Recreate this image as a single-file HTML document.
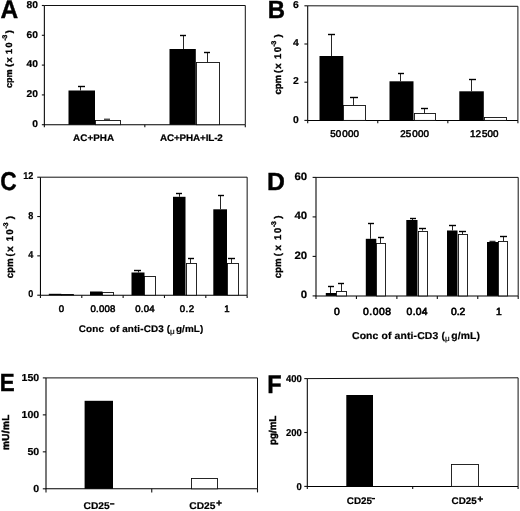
<!DOCTYPE html>
<html><head><meta charset="utf-8"><title>Figure</title>
<style>
html,body{margin:0;padding:0;background:#fff;}
body{width:520px;height:511px;overflow:hidden;}
svg{display:block;filter:grayscale(1) blur(0.2px);text-rendering:geometricPrecision;font-family:"Liberation Sans",sans-serif;font-weight:bold;fill:#000;}
</style></head>
<body>
<svg width="520" height="511" viewBox="0 0 520 511">
<rect x="0" y="0" width="520" height="511" fill="#fff"/>
<path d="M44.35 5.5L245.3 5.5V124.7" fill="none" stroke="#111" stroke-width="1.0"/>
<path d="M44.35 5.5V124.7H245.3" fill="none" stroke="#000" stroke-width="1.05"/>
<line x1="41.85" y1="5.5" x2="44.35" y2="5.5" stroke="#111" stroke-width="1.1"/>
<text transform="translate(38.0,7.8) scale(1.04,1)" font-size="9.9" text-anchor="end" stroke="#000" stroke-width="0.2">80</text>
<line x1="41.85" y1="35.3" x2="44.35" y2="35.3" stroke="#111" stroke-width="1.1"/>
<text transform="translate(38.0,37.599999999999994) scale(1.04,1)" font-size="9.9" text-anchor="end" stroke="#000" stroke-width="0.2">60</text>
<line x1="41.85" y1="65.1" x2="44.35" y2="65.1" stroke="#111" stroke-width="1.1"/>
<text transform="translate(38.0,67.39999999999999) scale(1.04,1)" font-size="9.9" text-anchor="end" stroke="#000" stroke-width="0.2">40</text>
<line x1="41.85" y1="94.9" x2="44.35" y2="94.9" stroke="#111" stroke-width="1.1"/>
<text transform="translate(38.0,97.2) scale(1.04,1)" font-size="9.9" text-anchor="end" stroke="#000" stroke-width="0.2">20</text>
<line x1="41.85" y1="124.7" x2="44.35" y2="124.7" stroke="#111" stroke-width="1.1"/>
<text transform="translate(38.0,127.0) scale(1.04,1)" font-size="9.9" text-anchor="end" stroke="#000" stroke-width="0.2">0</text>
<line x1="44.35" y1="124.7" x2="44.35" y2="127.3" stroke="#111" stroke-width="1.1"/>
<line x1="144.82500000000002" y1="124.7" x2="144.82500000000002" y2="127.3" stroke="#111" stroke-width="1.1"/>
<line x1="245.3" y1="124.7" x2="245.3" y2="127.3" stroke="#111" stroke-width="1.1"/>
<rect x="68.5" y="90.5" width="26.5" height="34.2" fill="#000"/>
<line x1="80.5" y1="86.5" x2="80.5" y2="90.5" stroke="#1a1a1a" stroke-width="0.95"/>
<line x1="78" y1="86.5" x2="85" y2="86.5" stroke="#000" stroke-width="1.4"/>
<rect x="95.5" y="120.5" width="25" height="4.200000000000003" fill="#fff" stroke="#0a0a0a" stroke-width="0.88"/>
<line x1="104" y1="119.2" x2="110" y2="119.2" stroke="#000" stroke-width="1"/>
<rect x="169.5" y="49" width="26.30000000000001" height="75.7" fill="#000"/>
<line x1="183.5" y1="35.5" x2="183.5" y2="49" stroke="#1a1a1a" stroke-width="0.95"/>
<line x1="180" y1="35.5" x2="186" y2="35.5" stroke="#000" stroke-width="1.4"/>
<rect x="196.5" y="62.5" width="23" height="62.2" fill="#fff" stroke="#0a0a0a" stroke-width="0.88"/>
<line x1="207.5" y1="52.5" x2="207.5" y2="62.3" stroke="#1a1a1a" stroke-width="0.95"/>
<line x1="204" y1="52.5" x2="210" y2="52.5" stroke="#000" stroke-width="1.4"/>
<text transform="translate(73.0,141) scale(1.04,1)" font-size="9.5" text-anchor="start" textLength="39.62" lengthAdjust="spacing" stroke="#000" stroke-width="0.2">AC+PHA</text>
<text transform="translate(160,141) scale(1.04,1)" font-size="9.5" text-anchor="start" textLength="60.38" lengthAdjust="spacing" stroke="#000" stroke-width="0.2">AC+PHA+IL-2</text>
<text transform="translate(12.0,87.7) rotate(-90)" font-size="9.1" stroke="#000" stroke-width="0.35"><tspan x="-0.36">cpm</tspan><tspan x="20.86">(</tspan><tspan x="25.21">x</tspan><tspan x="33.73">1</tspan><tspan x="40.09">0</tspan><tspan x="47.13" dy="-4.8" font-size="6.8">-</tspan><tspan x="49.23" font-size="6.8">3</tspan><tspan x="54.43" dy="4.8">)</tspan></text>
<text transform="translate(0.6,18.0) scale(0.96,1)" font-size="25.5" text-anchor="start" stroke="#000" stroke-width="0.4">A</text>
<path d="M307.7 5.8L517.9 6.3V120.4" fill="none" stroke="#111" stroke-width="1.0"/>
<path d="M307.7 5.8V120.4H517.9" fill="none" stroke="#000" stroke-width="1.05"/>
<line x1="304.4" y1="5.8" x2="307.7" y2="5.8" stroke="#111" stroke-width="1.1"/>
<text transform="translate(298.9,7.9) scale(1.04,1)" font-size="10" text-anchor="end" stroke="#000" stroke-width="0.2">6</text>
<line x1="304.4" y1="44.0" x2="307.7" y2="44.0" stroke="#111" stroke-width="1.1"/>
<text transform="translate(298.9,46.1) scale(1.04,1)" font-size="10" text-anchor="end" stroke="#000" stroke-width="0.2">4</text>
<line x1="304.4" y1="82.2" x2="307.7" y2="82.2" stroke="#111" stroke-width="1.1"/>
<text transform="translate(298.9,84.3) scale(1.04,1)" font-size="10" text-anchor="end" stroke="#000" stroke-width="0.2">2</text>
<line x1="304.4" y1="120.4" x2="307.7" y2="120.4" stroke="#111" stroke-width="1.1"/>
<text transform="translate(298.9,122.5) scale(1.04,1)" font-size="10" text-anchor="end" stroke="#000" stroke-width="0.2">0</text>
<line x1="307.7" y1="120.4" x2="307.7" y2="123.2" stroke="#111" stroke-width="1.1"/>
<line x1="377.76666666666665" y1="120.4" x2="377.76666666666665" y2="123.2" stroke="#111" stroke-width="1.1"/>
<line x1="447.8333333333333" y1="120.4" x2="447.8333333333333" y2="123.2" stroke="#111" stroke-width="1.1"/>
<line x1="517.9" y1="120.4" x2="517.9" y2="123.2" stroke="#111" stroke-width="1.1"/>
<rect x="319.5" y="56" width="23.80000000000001" height="64.4" fill="#000"/>
<line x1="331.5" y1="34.5" x2="331.5" y2="56" stroke="#1a1a1a" stroke-width="0.95"/>
<line x1="328" y1="34.5" x2="335" y2="34.5" stroke="#000" stroke-width="1.4"/>
<rect x="343.5" y="105.5" width="22" height="14.900000000000006" fill="#fff" stroke="#0a0a0a" stroke-width="0.88"/>
<line x1="353.5" y1="97.5" x2="353.5" y2="105" stroke="#1a1a1a" stroke-width="0.95"/>
<line x1="350" y1="97.5" x2="358" y2="97.5" stroke="#000" stroke-width="1.4"/>
<rect x="389.5" y="81.3" width="24.0" height="39.10000000000001" fill="#000"/>
<line x1="400.5" y1="73.5" x2="400.5" y2="81.3" stroke="#1a1a1a" stroke-width="0.95"/>
<line x1="398" y1="73.5" x2="404" y2="73.5" stroke="#000" stroke-width="1.4"/>
<rect x="414.5" y="113.5" width="21" height="6.900000000000006" fill="#fff" stroke="#0a0a0a" stroke-width="0.88"/>
<line x1="424.5" y1="108.5" x2="424.5" y2="113.2" stroke="#1a1a1a" stroke-width="0.95"/>
<line x1="421" y1="108.5" x2="428" y2="108.5" stroke="#000" stroke-width="1.4"/>
<rect x="459.3" y="91.3" width="24.5" height="29.10000000000001" fill="#000"/>
<line x1="471.5" y1="79.5" x2="471.5" y2="91.3" stroke="#1a1a1a" stroke-width="0.95"/>
<line x1="469" y1="79.5" x2="476" y2="79.5" stroke="#000" stroke-width="1.4"/>
<rect x="484.5" y="117.5" width="22" height="2.9000000000000057" fill="#fff" stroke="#0a0a0a" stroke-width="0.88"/>
<text transform="translate(330.3,137) scale(1.0,1)" font-size="9.8" text-anchor="start" textLength="28.6" lengthAdjust="spacing" stroke="#000" stroke-width="0.55" font-weight="normal">50<tspan dx="1.0">000</tspan></text>
<text transform="translate(400.3,137) scale(1.0,1)" font-size="9.8" text-anchor="start" textLength="28.6" lengthAdjust="spacing" stroke="#000" stroke-width="0.55" font-weight="normal">25<tspan dx="1.0">000</tspan></text>
<text transform="translate(470.1,137) scale(1.0,1)" font-size="9.8" text-anchor="start" textLength="28.4" lengthAdjust="spacing" stroke="#000" stroke-width="0.55" font-weight="normal">12<tspan dx="1.0">500</tspan></text>
<text transform="translate(280.8,94.2) rotate(-90)" font-size="9.6" stroke="#000" stroke-width="0.35"><tspan x="-0.38">cpm</tspan><tspan x="21.13">(</tspan><tspan x="25.50">x</tspan><tspan x="35.30">1</tspan><tspan x="41.93">0</tspan><tspan x="47.63" dy="-4.8" font-size="6.8">-</tspan><tspan x="49.73" font-size="6.8">3</tspan><tspan x="56.71" dy="4.8">)</tspan></text>
<text transform="translate(267.7,18.05) scale(0.965,1)" font-size="24.8" text-anchor="start" stroke="#000" stroke-width="0.4">B</text>
<path d="M40.45 177.2L247.15 177.2V295.2" fill="none" stroke="#111" stroke-width="1.0"/>
<path d="M40.45 177.2V295.2H247.15" fill="none" stroke="#000" stroke-width="1.05"/>
<line x1="37.25" y1="177.2" x2="40.45" y2="177.2" stroke="#111" stroke-width="1.1"/>
<text transform="translate(33.4,179.29999999999998) scale(0.92,1)" font-size="9.9" text-anchor="end" stroke="#000" stroke-width="0.2">12</text>
<line x1="37.25" y1="216.53333333333333" x2="40.45" y2="216.53333333333333" stroke="#111" stroke-width="1.1"/>
<text transform="translate(33.4,218.63333333333333) scale(0.92,1)" font-size="9.9" text-anchor="end" stroke="#000" stroke-width="0.2">8</text>
<line x1="37.25" y1="255.86666666666667" x2="40.45" y2="255.86666666666667" stroke="#111" stroke-width="1.1"/>
<text transform="translate(33.4,257.9666666666667) scale(0.92,1)" font-size="9.9" text-anchor="end" stroke="#000" stroke-width="0.2">4</text>
<line x1="37.25" y1="295.2" x2="40.45" y2="295.2" stroke="#111" stroke-width="1.1"/>
<text transform="translate(33.4,297.3) scale(0.92,1)" font-size="9.9" text-anchor="end" stroke="#000" stroke-width="0.2">0</text>
<line x1="40.45" y1="295.2" x2="40.45" y2="298.0" stroke="#111" stroke-width="1.1"/>
<line x1="81.78999999999999" y1="295.2" x2="81.78999999999999" y2="298.0" stroke="#111" stroke-width="1.1"/>
<line x1="123.13" y1="295.2" x2="123.13" y2="298.0" stroke="#111" stroke-width="1.1"/>
<line x1="164.46999999999997" y1="295.2" x2="164.46999999999997" y2="298.0" stroke="#111" stroke-width="1.1"/>
<line x1="205.81" y1="295.2" x2="205.81" y2="298.0" stroke="#111" stroke-width="1.1"/>
<line x1="247.14999999999998" y1="295.2" x2="247.14999999999998" y2="298.0" stroke="#111" stroke-width="1.1"/>
<rect x="48.8" y="293.8" width="12.5" height="1.3999999999999773" fill="#000"/>
<rect x="61.5" y="294.5" width="12" height="0.6999999999999886" fill="#fff" stroke="#0a0a0a" stroke-width="0.88"/>
<rect x="90" y="291.5" width="12.5" height="3.6999999999999886" fill="#000"/>
<rect x="102.5" y="292.5" width="11" height="2.6999999999999886" fill="#fff" stroke="#0a0a0a" stroke-width="0.88"/>
<rect x="131.5" y="272.5" width="13.0" height="22.69999999999999" fill="#000"/>
<line x1="138.5" y1="270.5" x2="138.5" y2="272.5" stroke="#1a1a1a" stroke-width="0.95"/>
<line x1="134" y1="270.5" x2="141" y2="270.5" stroke="#000" stroke-width="1.4"/>
<rect x="144.5" y="276.5" width="11" height="18.69999999999999" fill="#fff" stroke="#0a0a0a" stroke-width="0.88"/>
<rect x="173" y="196.8" width="12.5" height="98.39999999999998" fill="#000"/>
<line x1="179.5" y1="193.5" x2="179.5" y2="196.8" stroke="#1a1a1a" stroke-width="0.95"/>
<line x1="176" y1="193.5" x2="182" y2="193.5" stroke="#000" stroke-width="1.4"/>
<rect x="186.5" y="263.5" width="10" height="31.69999999999999" fill="#fff" stroke="#0a0a0a" stroke-width="0.88"/>
<line x1="190.5" y1="258.5" x2="190.5" y2="263" stroke="#1a1a1a" stroke-width="0.95"/>
<line x1="188" y1="258.5" x2="194" y2="258.5" stroke="#000" stroke-width="1.4"/>
<rect x="213.3" y="209.3" width="13.699999999999989" height="85.89999999999998" fill="#000"/>
<line x1="220.5" y1="195.5" x2="220.5" y2="209.3" stroke="#1a1a1a" stroke-width="0.95"/>
<line x1="218" y1="195.5" x2="224" y2="195.5" stroke="#000" stroke-width="1.4"/>
<rect x="227.5" y="263.5" width="11" height="31.69999999999999" fill="#fff" stroke="#0a0a0a" stroke-width="0.88"/>
<line x1="231.5" y1="258.5" x2="231.5" y2="263" stroke="#1a1a1a" stroke-width="0.95"/>
<line x1="228" y1="258.5" x2="235" y2="258.5" stroke="#000" stroke-width="1.4"/>
<text transform="translate(61.3,312) scale(1.0,1)" font-size="9.6" text-anchor="middle" stroke="#000" stroke-width="0.55" font-weight="normal">0</text>
<text transform="translate(90.45,312) scale(1.0,1)" font-size="9.6" text-anchor="start" textLength="24.9" lengthAdjust="spacing" stroke="#000" stroke-width="0.55" font-weight="normal">0.008</text>
<text transform="translate(135.29999999999998,312) scale(1.0,1)" font-size="9.6" text-anchor="start" textLength="19.4" lengthAdjust="spacing" stroke="#000" stroke-width="0.55" font-weight="normal">0.04</text>
<text transform="translate(179.7,312) scale(1.0,1)" font-size="9.6" text-anchor="start" textLength="14.4" lengthAdjust="spacing" stroke="#000" stroke-width="0.55" font-weight="normal">0.2</text>
<text transform="translate(226.8,312) scale(1.0,1)" font-size="9.6" text-anchor="middle" stroke="#000" stroke-width="0.55" font-weight="normal">1</text>
<text transform="translate(78.8,331.8) scale(1.04,1)" font-size="9.5" text-anchor="start" textLength="119.71" lengthAdjust="spacing" stroke="#000" stroke-width="0.2" xml:space="preserve">Conc  of anti-CD3 (<tspan font-size="7.8" dy="2.2" font-weight="normal">&#956;</tspan><tspan dy="-2.2" dx="1.0">g/mL)</tspan></text>
<text transform="translate(13.1,277.9) rotate(-90)" font-size="9.7" stroke="#000" stroke-width="0.35"><tspan x="-0.39">cpm</tspan><tspan x="21.42">(</tspan><tspan x="26.10">x</tspan><tspan x="36.59">1</tspan><tspan x="43.28">0</tspan><tspan x="49.43" dy="-4.8" font-size="6.8">-</tspan><tspan x="51.73" font-size="6.8">3</tspan><tspan x="58.71" dy="4.8">)</tspan></text>
<text transform="translate(0.3,189.95) scale(0.88,1)" font-size="25.8" text-anchor="start" stroke="#000" stroke-width="0.4">C</text>
<path d="M316.0 177.4L518.2 177.4V295.9" fill="none" stroke="#111" stroke-width="1.0"/>
<path d="M316.0 177.4V295.9H518.2" fill="none" stroke="#000" stroke-width="1.05"/>
<line x1="312.6" y1="177.4" x2="316.0" y2="177.4" stroke="#111" stroke-width="1.1"/>
<text transform="translate(307.2,179.8) scale(1.07,1)" font-size="10.7" text-anchor="end" stroke="#000" stroke-width="0.2">60</text>
<line x1="312.6" y1="216.9" x2="316.0" y2="216.9" stroke="#111" stroke-width="1.1"/>
<text transform="translate(307.2,219.3) scale(1.07,1)" font-size="10.7" text-anchor="end" stroke="#000" stroke-width="0.2">40</text>
<line x1="312.6" y1="256.4" x2="316.0" y2="256.4" stroke="#111" stroke-width="1.1"/>
<text transform="translate(307.2,258.79999999999995) scale(1.07,1)" font-size="10.7" text-anchor="end" stroke="#000" stroke-width="0.2">20</text>
<line x1="312.6" y1="295.9" x2="316.0" y2="295.9" stroke="#111" stroke-width="1.1"/>
<text transform="translate(307.2,298.29999999999995) scale(1.07,1)" font-size="10.7" text-anchor="end" stroke="#000" stroke-width="0.2">0</text>
<line x1="316.0" y1="295.9" x2="316.0" y2="299.09999999999997" stroke="#111" stroke-width="1.1"/>
<line x1="356.44" y1="295.9" x2="356.44" y2="299.09999999999997" stroke="#111" stroke-width="1.1"/>
<line x1="396.88" y1="295.9" x2="396.88" y2="299.09999999999997" stroke="#111" stroke-width="1.1"/>
<line x1="437.32000000000005" y1="295.9" x2="437.32000000000005" y2="299.09999999999997" stroke="#111" stroke-width="1.1"/>
<line x1="477.76000000000005" y1="295.9" x2="477.76000000000005" y2="299.09999999999997" stroke="#111" stroke-width="1.1"/>
<line x1="518.2" y1="295.9" x2="518.2" y2="299.09999999999997" stroke="#111" stroke-width="1.1"/>
<rect x="325.8" y="293" width="10.5" height="2.8999999999999773" fill="#000"/>
<line x1="330.5" y1="286.5" x2="330.5" y2="293" stroke="#1a1a1a" stroke-width="0.95"/>
<line x1="328" y1="286.5" x2="334" y2="286.5" stroke="#000" stroke-width="1.4"/>
<rect x="336.5" y="291.5" width="10" height="4.399999999999977" fill="#fff" stroke="#0a0a0a" stroke-width="0.88"/>
<line x1="341.5" y1="283.5" x2="341.5" y2="291.2" stroke="#1a1a1a" stroke-width="0.95"/>
<line x1="338" y1="283.5" x2="344" y2="283.5" stroke="#000" stroke-width="1.4"/>
<rect x="365.8" y="238.8" width="10.5" height="57.099999999999966" fill="#000"/>
<line x1="370.5" y1="223.5" x2="370.5" y2="238.8" stroke="#1a1a1a" stroke-width="0.95"/>
<line x1="368" y1="223.5" x2="374" y2="223.5" stroke="#000" stroke-width="1.4"/>
<rect x="376.5" y="243.5" width="9" height="52.39999999999998" fill="#fff" stroke="#0a0a0a" stroke-width="0.88"/>
<line x1="380.5" y1="237.5" x2="380.5" y2="243.2" stroke="#1a1a1a" stroke-width="0.95"/>
<line x1="378" y1="237.5" x2="384" y2="237.5" stroke="#000" stroke-width="1.4"/>
<rect x="406.3" y="220" width="11.199999999999989" height="75.89999999999998" fill="#000"/>
<line x1="412.5" y1="218.5" x2="412.5" y2="220" stroke="#1a1a1a" stroke-width="0.95"/>
<line x1="410" y1="218.5" x2="416" y2="218.5" stroke="#000" stroke-width="1.4"/>
<rect x="418.5" y="231.5" width="9" height="64.39999999999998" fill="#fff" stroke="#0a0a0a" stroke-width="0.88"/>
<line x1="422.5" y1="228.5" x2="422.5" y2="230.6" stroke="#1a1a1a" stroke-width="0.95"/>
<line x1="419" y1="228.5" x2="426" y2="228.5" stroke="#000" stroke-width="1.4"/>
<rect x="447" y="230.5" width="10.5" height="65.39999999999998" fill="#000"/>
<line x1="452.5" y1="225.5" x2="452.5" y2="230.5" stroke="#1a1a1a" stroke-width="0.95"/>
<line x1="449" y1="225.5" x2="456" y2="225.5" stroke="#000" stroke-width="1.4"/>
<rect x="458.5" y="234.5" width="9" height="61.39999999999998" fill="#fff" stroke="#0a0a0a" stroke-width="0.88"/>
<line x1="462.5" y1="231.5" x2="462.5" y2="234.2" stroke="#1a1a1a" stroke-width="0.95"/>
<line x1="459" y1="231.5" x2="466" y2="231.5" stroke="#000" stroke-width="1.4"/>
<rect x="487" y="242" width="11" height="53.89999999999998" fill="#000"/>
<line x1="489.5" y1="241.3" x2="495.5" y2="241.3" stroke="#000" stroke-width="1"/>
<rect x="498.5" y="241.5" width="9" height="54.39999999999998" fill="#fff" stroke="#0a0a0a" stroke-width="0.88"/>
<line x1="503.5" y1="236.5" x2="503.5" y2="241.2" stroke="#1a1a1a" stroke-width="0.95"/>
<line x1="500" y1="236.5" x2="507" y2="236.5" stroke="#000" stroke-width="1.4"/>
<text transform="translate(336.8,314.8) scale(1.0,1)" font-size="10.3" text-anchor="middle" stroke="#000" stroke-width="0.65" font-weight="normal">0</text>
<text transform="translate(363.09999999999997,314.8) scale(1.0,1)" font-size="10.3" text-anchor="start" textLength="27.8" lengthAdjust="spacing" stroke="#000" stroke-width="0.65" font-weight="normal">0.008</text>
<text transform="translate(406.6,314.8) scale(1.0,1)" font-size="10.3" text-anchor="start" textLength="21.0" lengthAdjust="spacing" stroke="#000" stroke-width="0.65" font-weight="normal">0.04</text>
<text transform="translate(450.90000000000003,314.8) scale(1.0,1)" font-size="10.3" text-anchor="start" textLength="14.4" lengthAdjust="spacing" stroke="#000" stroke-width="0.65" font-weight="normal">0.2</text>
<text transform="translate(498.8,314.8) scale(1.0,1)" font-size="10.3" text-anchor="middle" stroke="#000" stroke-width="0.65" font-weight="normal">1</text>
<text transform="translate(352,338.6) scale(1.04,1)" font-size="10" text-anchor="start" textLength="123.08" lengthAdjust="spacing" stroke="#000" stroke-width="0.2" xml:space="preserve">Conc of anti-CD3 (<tspan font-size="7.8" dy="2.2" font-weight="normal">&#956;</tspan><tspan dy="-2.2" dx="1.3">g/mL)</tspan></text>
<text transform="translate(280.6,277.9) rotate(-90)" font-size="9.7" stroke="#000" stroke-width="0.35"><tspan x="-0.39">cpm</tspan><tspan x="21.72">(</tspan><tspan x="27.40">x</tspan><tspan x="37.99">1</tspan><tspan x="44.68">0</tspan><tspan x="51.03" dy="-4.8" font-size="6.8">-</tspan><tspan x="52.93" font-size="6.8">3</tspan><tspan x="59.11" dy="4.8">)</tspan></text>
<text transform="translate(266.95,189.8) scale(1.0,1)" font-size="24.8" text-anchor="start" stroke="#000" stroke-width="0.4">D</text>
<path d="M46.0 377.9L257.5 377.9V488.8" fill="none" stroke="#111" stroke-width="1.0"/>
<path d="M46.0 377.9V488.8H257.5" fill="none" stroke="#000" stroke-width="1.05"/>
<line x1="42.8" y1="377.9" x2="46.0" y2="377.9" stroke="#111" stroke-width="1.1"/>
<text transform="translate(39.2,381.2) scale(1.04,1)" font-size="10.2" text-anchor="end" stroke="#000" stroke-width="0.2">150</text>
<line x1="42.8" y1="414.8666666666667" x2="46.0" y2="414.8666666666667" stroke="#111" stroke-width="1.1"/>
<text transform="translate(39.2,418.1666666666667) scale(1.04,1)" font-size="10.2" text-anchor="end" stroke="#000" stroke-width="0.2">100</text>
<line x1="42.8" y1="451.8333333333333" x2="46.0" y2="451.8333333333333" stroke="#111" stroke-width="1.1"/>
<text transform="translate(39.2,455.1333333333333) scale(1.04,1)" font-size="10.2" text-anchor="end" stroke="#000" stroke-width="0.2">50</text>
<line x1="42.8" y1="488.8" x2="46.0" y2="488.8" stroke="#111" stroke-width="1.1"/>
<text transform="translate(39.2,492.1) scale(1.04,1)" font-size="10.2" text-anchor="end" stroke="#000" stroke-width="0.2">0</text>
<line x1="46.0" y1="488.8" x2="46.0" y2="492.40000000000003" stroke="#111" stroke-width="1.1"/>
<line x1="151.75" y1="488.8" x2="151.75" y2="492.40000000000003" stroke="#111" stroke-width="1.1"/>
<line x1="257.5" y1="488.8" x2="257.5" y2="492.40000000000003" stroke="#111" stroke-width="1.1"/>
<rect x="84.6" y="400.8" width="28.400000000000006" height="88.0" fill="#000"/>
<rect x="191.5" y="478.5" width="26" height="10.300000000000011" fill="#fff" stroke="#0a0a0a" stroke-width="0.88"/>
<text transform="translate(83.6,508.9) scale(1.04,1)" font-size="9.8" text-anchor="start" stroke="#000" stroke-width="0.2">CD25</text>
<line x1="110" y1="503.9" x2="114.4" y2="503.9" stroke="#000" stroke-width="1.4"/>
<text transform="translate(189.3,508.9) scale(1.04,1)" font-size="9.8" text-anchor="start" stroke="#000" stroke-width="0.2">CD25<tspan dy="-2.5" dx="0.8" font-size="9.2" stroke="#000" stroke-width="0.45">+</tspan></text>
<text transform="translate(9.1,449.9) rotate(-90) scale(1.0,1)" font-size="10.0" stroke="#000" stroke-width="0.45" textLength="35.2" lengthAdjust="spacing">mU/mL</text>
<text transform="translate(-0.2,391.3) scale(0.9,1)" font-size="24.9" text-anchor="start" stroke="#000" stroke-width="0.4">E</text>
<path d="M307.3 378.6L518.1 377.8V486.4" fill="none" stroke="#111" stroke-width="1.0"/>
<path d="M307.3 378.6V486.4H518.1" fill="none" stroke="#000" stroke-width="1.05"/>
<line x1="304.3" y1="378.6" x2="307.3" y2="378.6" stroke="#111" stroke-width="1.1"/>
<text transform="translate(301.8,382.3) scale(0.95,1)" font-size="10" text-anchor="end" stroke="#000" stroke-width="0.2">400</text>
<line x1="304.3" y1="432.5" x2="307.3" y2="432.5" stroke="#111" stroke-width="1.1"/>
<text transform="translate(301.8,436.2) scale(0.95,1)" font-size="10" text-anchor="end" stroke="#000" stroke-width="0.2">200</text>
<line x1="304.3" y1="486.4" x2="307.3" y2="486.4" stroke="#111" stroke-width="1.1"/>
<text transform="translate(301.8,490.09999999999997) scale(0.95,1)" font-size="10" text-anchor="end" stroke="#000" stroke-width="0.2">0</text>
<line x1="307.3" y1="486.4" x2="307.3" y2="489.0" stroke="#111" stroke-width="1.1"/>
<line x1="412.70000000000005" y1="486.4" x2="412.70000000000005" y2="489.0" stroke="#111" stroke-width="1.1"/>
<line x1="518.1" y1="486.4" x2="518.1" y2="489.0" stroke="#111" stroke-width="1.1"/>
<rect x="346.3" y="395" width="26.69999999999999" height="91.39999999999998" fill="#000"/>
<rect x="451.5" y="464.5" width="27" height="21.899999999999977" fill="#fff" stroke="#0a0a0a" stroke-width="0.88"/>
<text transform="translate(346.8,504.1) scale(1.04,1)" font-size="9.5" text-anchor="start" stroke="#000" stroke-width="0.2">CD25</text>
<line x1="371.6" y1="498.6" x2="375" y2="498.6" stroke="#000" stroke-width="1.4"/>
<text transform="translate(451.5,504.1) scale(1.04,1)" font-size="9.5" text-anchor="start" stroke="#000" stroke-width="0.2">CD25<tspan dy="-2.5" dx="0.8" font-size="9.2" stroke="#000" stroke-width="0.45">+</tspan></text>
<text transform="translate(276.2,444.9) rotate(-90) scale(1.0,1)" font-size="9.8" stroke="#000" stroke-width="0.45" textLength="29.2" lengthAdjust="spacing">pg/mL</text>
<text transform="translate(267.3,392.5) scale(0.925,1)" font-size="25.5" text-anchor="start" stroke="#000" stroke-width="0.4">F</text>
</svg>
</body></html>
